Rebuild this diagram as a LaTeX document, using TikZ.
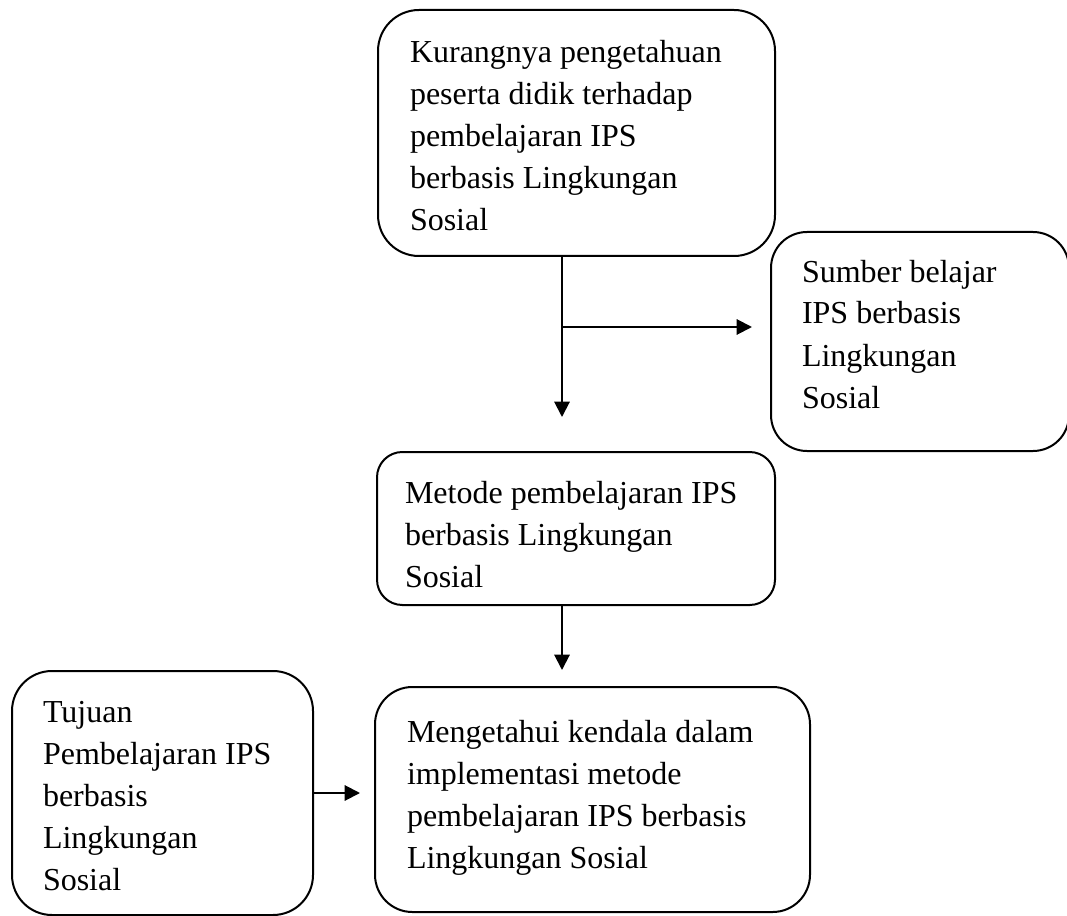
\documentclass[tikz,border=0pt]{standalone}
\usepackage{fontspec}
\setmainfont{Liberation Serif}
\usetikzlibrary{arrows.meta}
\begin{document}
\begin{tikzpicture}[x=0.75pt,y=-0.75pt,
  box/.style={draw=black, line width=1.5pt, rectangle, inner sep=0pt, outer sep=0pt},
  txt/.style={anchor=base west, inner sep=0pt, outer sep=0pt, font=\fontsize{24}{31.5}\selectfont},
  arr/.style={draw=black, line width=1.5pt, -{Triangle[length=11.5pt,width=11.5pt]}}]
\useasboundingbox (0,0) rectangle (1067,916);
% boxes
\node[box, minimum width=297.75pt, minimum height=184.5pt, rounded corners=30.75pt] (b1) at (576.5,133) {};
\node[box, minimum width=223.5pt, minimum height=164.25pt, rounded corners=27pt] (b2) at (920,341.5) {};
\node[box, minimum width=298.5pt, minimum height=114.75pt, rounded corners=19pt] (b3) at (576,528.5) {};
\node[box, minimum width=326.25pt, minimum height=168.75pt, rounded corners=28pt] (b4) at (592.5,799.5) {};
\node[box, minimum width=225.75pt, minimum height=183pt, rounded corners=30pt] (b5) at (162.5,793) {};
% texts
\node[txt] (t1) at (410,63) {\vtop{\hbox{Kurangnya pengetahuan}\hbox{peserta didik terhadap}\hbox{pembelajaran IPS}\hbox{berbasis Lingkungan}\hbox{Sosial}}};
\node[txt] (t2) at (802,282) {\vtop{\hbox{Sumber belajar}\hbox{IPS berbasis}\hbox{Lingkungan}\hbox{Sosial}}};
\node[txt] (t3) at (405,503) {\vtop{\hbox{Metode pembelajaran IPS}\hbox{berbasis Lingkungan}\hbox{Sosial}}};
\node[txt] (t4) at (407,742) {\vtop{\hbox{Mengetahui kendala dalam}\hbox{implementasi metode}\hbox{pembelajaran IPS berbasis}\hbox{Lingkungan Sosial}}};
\node[txt] (t5) at (43,722) {\vtop{\hbox{Tujuan}\hbox{Pembelajaran IPS}\hbox{berbasis}\hbox{Lingkungan}\hbox{Sosial}}};
% connectors
\coordinate (c1) at (562,417);
\coordinate (j1) at (562,327);
\draw[arr] (b1.south -| c1) -- (c1);
\draw[arr, shorten >=14.25pt] (j1) -- (j1 -| b2.west);
\draw[arr, shorten >=12.75pt] (b3.south -| c1) -- (b4.north -| c1);
\draw[arr, shorten >=11.25pt] (b5.east) -- (b5.east -| b4.west);
\end{tikzpicture}
\end{document}
